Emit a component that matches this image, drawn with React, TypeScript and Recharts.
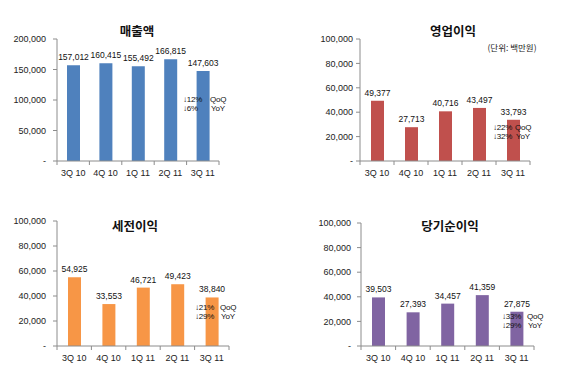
import React from 'react';
import { BarChart, Bar, XAxis, YAxis, LabelList } from 'recharts';

const categories = ['3Q 10', '4Q 10', '1Q 11', '2Q 11', '3Q 11'];
const revenue = [157012, 160415, 155492, 166815, 147603];
const operatingProfit = [49377, 27713, 40716, 43497, 33793];
const pretaxProfit = [54925, 33553, 46721, 49423, 38840];
const netProfit = [39503, 27393, 34457, 41359, 27875];
const revenueTicks = [0, 50000, 100000, 150000, 200000];
const profitTicks = [0, 20000, 40000, 60000, 80000, 100000];
const titles = ['매출액', '영업이익', '세전이익', '당기순이익'];
const qoq = ['12%', '22%', '21%', '33%'];
const yoy = ['6%', '32%', '29%', '29%'];
const unitLabel = '(단위: 백만원)';

const FONT = '"Noto Sans CJK KR", "Noto Sans", sans-serif';
const NUMFONT = '"Liberation Sans", Arial, sans-serif';
const AXIS = '#8c8c8c';

const fmt = (v: number) => (v === 0 ? '-' : v.toLocaleString('en-US'));

type PanelProps = {
  left: number; top: number; width: number; height: number;
  margin: { top: number; right: number; bottom: number; left: number };
  yWidth: number; xHeight: number; tickMargin: number;
  values: number[]; color: string; ticks: number[];
  title: string; titleX: number; titleY: number;
  annX: number; annY: number; annGap: number; q: string; y: string;
};

function Panel(p: PanelProps) {
  const data = categories.map((c, i) => ({ name: c, value: p.values[i] }));
  const plotW = p.width - p.margin.left - p.margin.right - p.yWidth;
  const bw = plotW / categories.length;
  const XTick = (props: any) => {
    const { x, y, payload, index } = props;
    return (
      <g>
        <line x1={x + bw / 2} y1={y} x2={x + bw / 2} y2={y + 4} stroke={AXIS} />
        {index === 0 ? <line x1={x - bw / 2} y1={y} x2={x - bw / 2} y2={y + 4} stroke={AXIS} /> : null}
        <text x={x} y={y + 15} textAnchor="middle" fontSize={9} fill="#222" fontFamily={NUMFONT}>
          {payload.value}
        </text>
      </g>
    );
  };
  const max = p.ticks[p.ticks.length - 1];
  const annStyle: React.CSSProperties = {
    position: 'absolute', fontFamily: NUMFONT, fontSize: 8, lineHeight: '9px', color: '#111',
    whiteSpace: 'nowrap', letterSpacing: -0.2,
  };
  return (
    <div style={{ position: 'absolute', left: p.left, top: p.top, width: p.width, height: p.height }}>
      <BarChart width={p.width} height={p.height} data={data} margin={p.margin}>
        <XAxis
          dataKey="name"
          height={p.xHeight}
          tickSize={0}
          tickMargin={0}
          tickLine={false}
          axisLine={{ stroke: AXIS }}
          tick={<XTick />}
          interval={0}
        />
        <YAxis
          width={p.yWidth}
          domain={[0, max]}
          ticks={p.ticks}
          interval={0}
          tickFormatter={fmt}
          tickSize={4}
          tickMargin={p.tickMargin}
          axisLine={{ stroke: AXIS }}
          tickLine={{ stroke: AXIS }}
          tick={{ fontSize: 9, fill: '#222', fontFamily: NUMFONT }}
        />
        <Bar dataKey="value" fill={p.color} barSize={13} isAnimationActive={false}>
          <LabelList
            dataKey="value"
            position="top"
            offset={5}
            formatter={(v: any) => Number(v).toLocaleString('en-US')}
            style={{ fontSize: 8.5, fill: '#111', fontFamily: NUMFONT }}
          />
        </Bar>
      </BarChart>
      <div
        style={{
          position: 'absolute', left: p.titleX, top: p.titleY, transform: 'translate(-50%, -50%)',
          fontFamily: FONT, fontWeight: 'bold', fontSize: 12.5, color: '#111', whiteSpace: 'nowrap',
        }}
      >
        {p.title}
      </div>
      <div style={{ ...annStyle, left: p.annX, top: p.annY }}>↓{p.q}</div>
      <div style={{ ...annStyle, left: p.annX + p.annGap, top: p.annY }}>QoQ</div>
      <div style={{ ...annStyle, left: p.annX, top: p.annY + 9 }}>↓{p.y}</div>
      <div style={{ ...annStyle, left: p.annX + p.annGap + 1, top: p.annY + 9 }}>YoY</div>
    </div>
  );
}

export default function App() {
  return (
    <div style={{ position: 'absolute', left: 0, top: 0, width: 580, height: 371, background: '#fff', overflow: 'hidden' }}>
      <Panel
        left={0} top={0} width={290} height={185}
        margin={{ top: 39, right: 71, bottom: 0, left: 0 }}
        yWidth={57} xHeight={24} tickMargin={7}
        values={revenue} color="#4F81BD" ticks={revenueTicks}
        title={titles[0]} titleX={137} titleY={30}
        annX={183} annY={95} annGap={27} q={qoq[0]} y={yoy[0]}
      />
      <Panel
        left={290} top={0} width={290} height={185}
        margin={{ top: 39, right: 50, bottom: 0, left: 0 }}
        yWidth={70} xHeight={24} tickMargin={3}
        values={operatingProfit} color="#C0504D" ticks={profitTicks}
        title={titles[1]} titleX={163} titleY={30}
        annX={203} annY={123} annGap={22} q={qoq[1]} y={yoy[1]}
      />
      <div
        style={{
          position: 'absolute', left: 512, top: 47, transform: 'translate(-50%, -50%)',
          fontFamily: FONT, fontSize: 8.5, color: '#222', whiteSpace: 'nowrap',
        }}
      >
        {unitLabel}
      </div>
      <Panel
        left={0} top={185} width={290} height={186}
        margin={{ top: 36, right: 61, bottom: 0, left: 0 }}
        yWidth={57} xHeight={25} tickMargin={7}
        values={pretaxProfit} color="#F79646" ticks={profitTicks}
        title={titles[2]} titleX={135} titleY={40}
        annX={195} annY={118} annGap={25} q={qoq[2]} y={yoy[2]}
      />
      <Panel
        left={290} top={185} width={290} height={186}
        margin={{ top: 38, right: 46, bottom: 0, left: 0 }}
        yWidth={71} xHeight={25} tickMargin={6}
        values={netProfit} color="#8064A2" ticks={profitTicks}
        title={titles[3]} titleX={160} titleY={40}
        annX={212} annY={127} annGap={25} q={qoq[3]} y={yoy[3]}
      />
    </div>
  );
}
